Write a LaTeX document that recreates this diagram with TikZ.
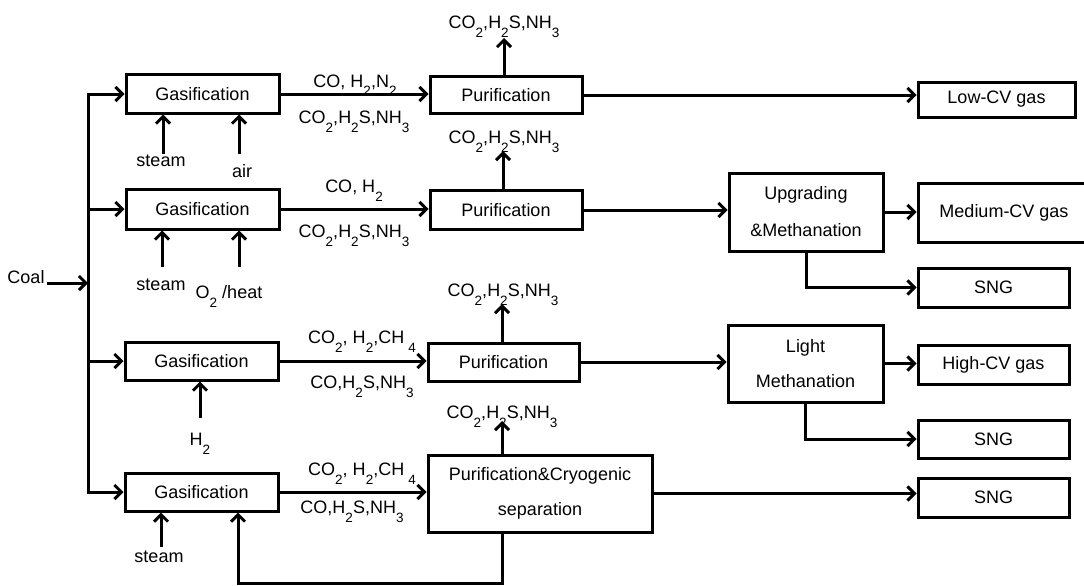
\documentclass[tikz,border=0pt]{standalone}
\usepackage{fontspec}
\setmainfont{Liberation Sans}
\usetikzlibrary{arrows.meta,calc}
\newcommand{\sbt}[1]{\raisebox{-9pt}{\fontsize{13.5}{13.5}\selectfont #1}}
\begin{document}
\begin{tikzpicture}[x=1pt,y=-1pt,
  every node/.style={font=\fontsize{18}{20}\selectfont, inner sep=0pt},
  box/.style={draw, line width=3pt, rectangle, align=center},
  ln/.style={line width=3pt, line cap=rect},
  arr/.style={line width=3pt, line cap=rect, -{Straight Barb[length=7pt,width=14pt]}},
  lab/.style={anchor=base}]
\useasboundingbox (0,0) rectangle (1084,586);

% gasification boxes
\node[box, minimum width=153, minimum height=38] (g1) at (202.5,94) {Gasification};
\node[box, minimum width=153, minimum height=40] (g2) at (202.5,209) {Gasification};
\node[box, minimum width=153, minimum height=38] (g3) at (201.5,361) {Gasification};
\node[box, minimum width=153, minimum height=38] (g4) at (201.5,492) {Gasification};

% purification boxes
\node[box, minimum width=152, minimum height=37] (p1) at (506,95) {Purification};
\node[box, minimum width=152, minimum height=39] (p2) at (506,210) {Purification};
\node[box, minimum width=151, minimum height=38] (p3) at (503.5,362) {Purification};
\node[box, minimum width=224, minimum height=77, font=\fontsize{18}{35}\selectfont] (p4) at (540,493.5) {Purification\&Cryogenic\\separation};

% methanation boxes
\node[box, minimum width=154, minimum height=78, font=\fontsize{18}{37}\selectfont] (u) at (806,212) {Upgrading\\\&Methanation};
\node[box, minimum width=155, minimum height=77, font=\fontsize{18}{35}\selectfont] (l) at (805.5,363.5) {Light\\Methanation};

% product boxes
\node[box, minimum width=157, minimum height=35] (low) at (996.5,99.5) {Low-CV gas};
\node[box, minimum width=172, minimum height=59] (med) at (1004,212.5) {Medium-CV gas};
\node[box, minimum width=151, minimum height=39] (s1) at (993.5,287.5) {SNG};
\node[box, minimum width=151, minimum height=39] (high) at (993.5,364.5) {High-CV gas};
\node[box, minimum width=151, minimum height=38] (s2) at (993.5,439) {SNG};
\node[box, minimum width=151, minimum height=39] (s3) at (993.5,497.5) {SNG};

% coal feed
\node[lab] (coal) at (26,283) {Coal};
\coordinate (bus) at (88,94);
\draw[arr] (g4.west -| bus) |- (g1.west);
\draw[arr] (g2.west -| bus) -- (g2.west);
\draw[arr] (g3.west -| bus) -- (g3.west);
\draw[arr] (g4.west -| bus) -- (g4.west);
\draw[arr] ([xshift=4pt]coal.base east) -- (coal.base east -| bus);

% side inputs
\node[lab] (st1) at (161,166) {steam};
\node[lab] (air) at (242,177) {air};
\node[lab] (st2) at (161,290) {steam};
\node[lab] (o2) at (229,298) {O\sbt{2} /heat};
\node[lab] (h2) at (200,445) {H\sbt{2}};
\node[lab] (st4) at (159,562) {steam};
\coordinate (a1) at (163,152);
\coordinate (a2) at (239,152);
\coordinate (a3) at (162,265);
\coordinate (a4) at (239,265);
\coordinate (a5) at (200,416);
\coordinate (a6) at (161,545);
\draw[arr] (a1) -- (a1 |- g1.south);
\draw[arr] (a2) -- (a2 |- g1.south);
\draw[arr] (a3) -- (a3 |- g2.south);
\draw[arr] (a4) -- (a4 |- g2.south);
\draw[arr] (a5) -- (a5 |- g3.south);
\draw[arr] (a6) -- (a6 |- g4.south);

% gas streams
\draw[arr] (g1.east) -- (g1.east -| p1.west);
\draw[arr] (g2.east) -- (g2.east -| p2.west);
\draw[arr] (g3.east) -- (g3.east -| p3.west);
\draw[arr] (g4.east) -- (g4.east -| p4.west);
\node[lab] (t1) at (355,87) {CO, H\sbt{2},N\sbt{2}};
\node[lab] (b1) at (354,123) {CO\sbt{2},H\sbt{2}S,NH\sbt{3}};
\node[lab] (t2) at (354,192) {CO, H\sbt{2}};
\node[lab] (b2) at (354,237) {CO\sbt{2},H\sbt{2}S,NH\sbt{3}};
\node[lab] (t3) at (362,343) {CO\sbt{2}, H\sbt{2},CH\hspace{4pt}\sbt{4}};
\node[lab] (b3) at (362,388) {CO,H\sbt{2}S,NH\sbt{3}};
\node[lab] (t4) at (362,475) {CO\sbt{2}, H\sbt{2},CH\hspace{4pt}\sbt{4}};
\node[lab] (b4) at (352,513) {CO,H\sbt{2}S,NH\sbt{3}};

% removed gases
\coordinate (up1) at (504,38);
\coordinate (up2) at (503,151);
\coordinate (up3) at (502,304);
\coordinate (up4) at (502,421);
\draw[arr] (up1 |- p1.north) -- (up1);
\draw[arr] (up2 |- p2.north) -- (up2);
\draw[arr] (up3 |- p3.north) -- (up3);
\draw[arr] (up4 |- p4.north) -- (up4);
\node[lab] (r1) at (504,29) {CO\sbt{2},H\sbt{2}S,NH\sbt{3}};
\node[lab] (r2) at (504,143) {CO\sbt{2},H\sbt{2}S,NH\sbt{3}};
\node[lab] (r3) at (503,296) {CO\sbt{2},H\sbt{2}S,NH\sbt{3}};
\node[lab] (r4) at (502,418) {CO\sbt{2},H\sbt{2}S,NH\sbt{3}};

% recycle
\coordinate (rcy) at (238,583);
\draw[arr] (up4 |- p4.south) |- (rcy) -- (rcy |- g4.south);

% products
\draw[arr] (p1.east) -- (p1.east -| low.west);
\draw[arr] (p2.east) -- (p2.east -| u.west);
\draw[arr] (u.east) -- (u.east -| med.west);
\draw[arr] (u.south) |- (s1.west);
\draw[arr] (p3.east) -- (p3.east -| l.west);
\draw[arr] (l.east) -- (l.east -| high.west);
\draw[arr] (l.south) |- (s2.west);
\draw[arr] (p4.east) -- (p4.east -| s3.west);
\end{tikzpicture}
\end{document}
